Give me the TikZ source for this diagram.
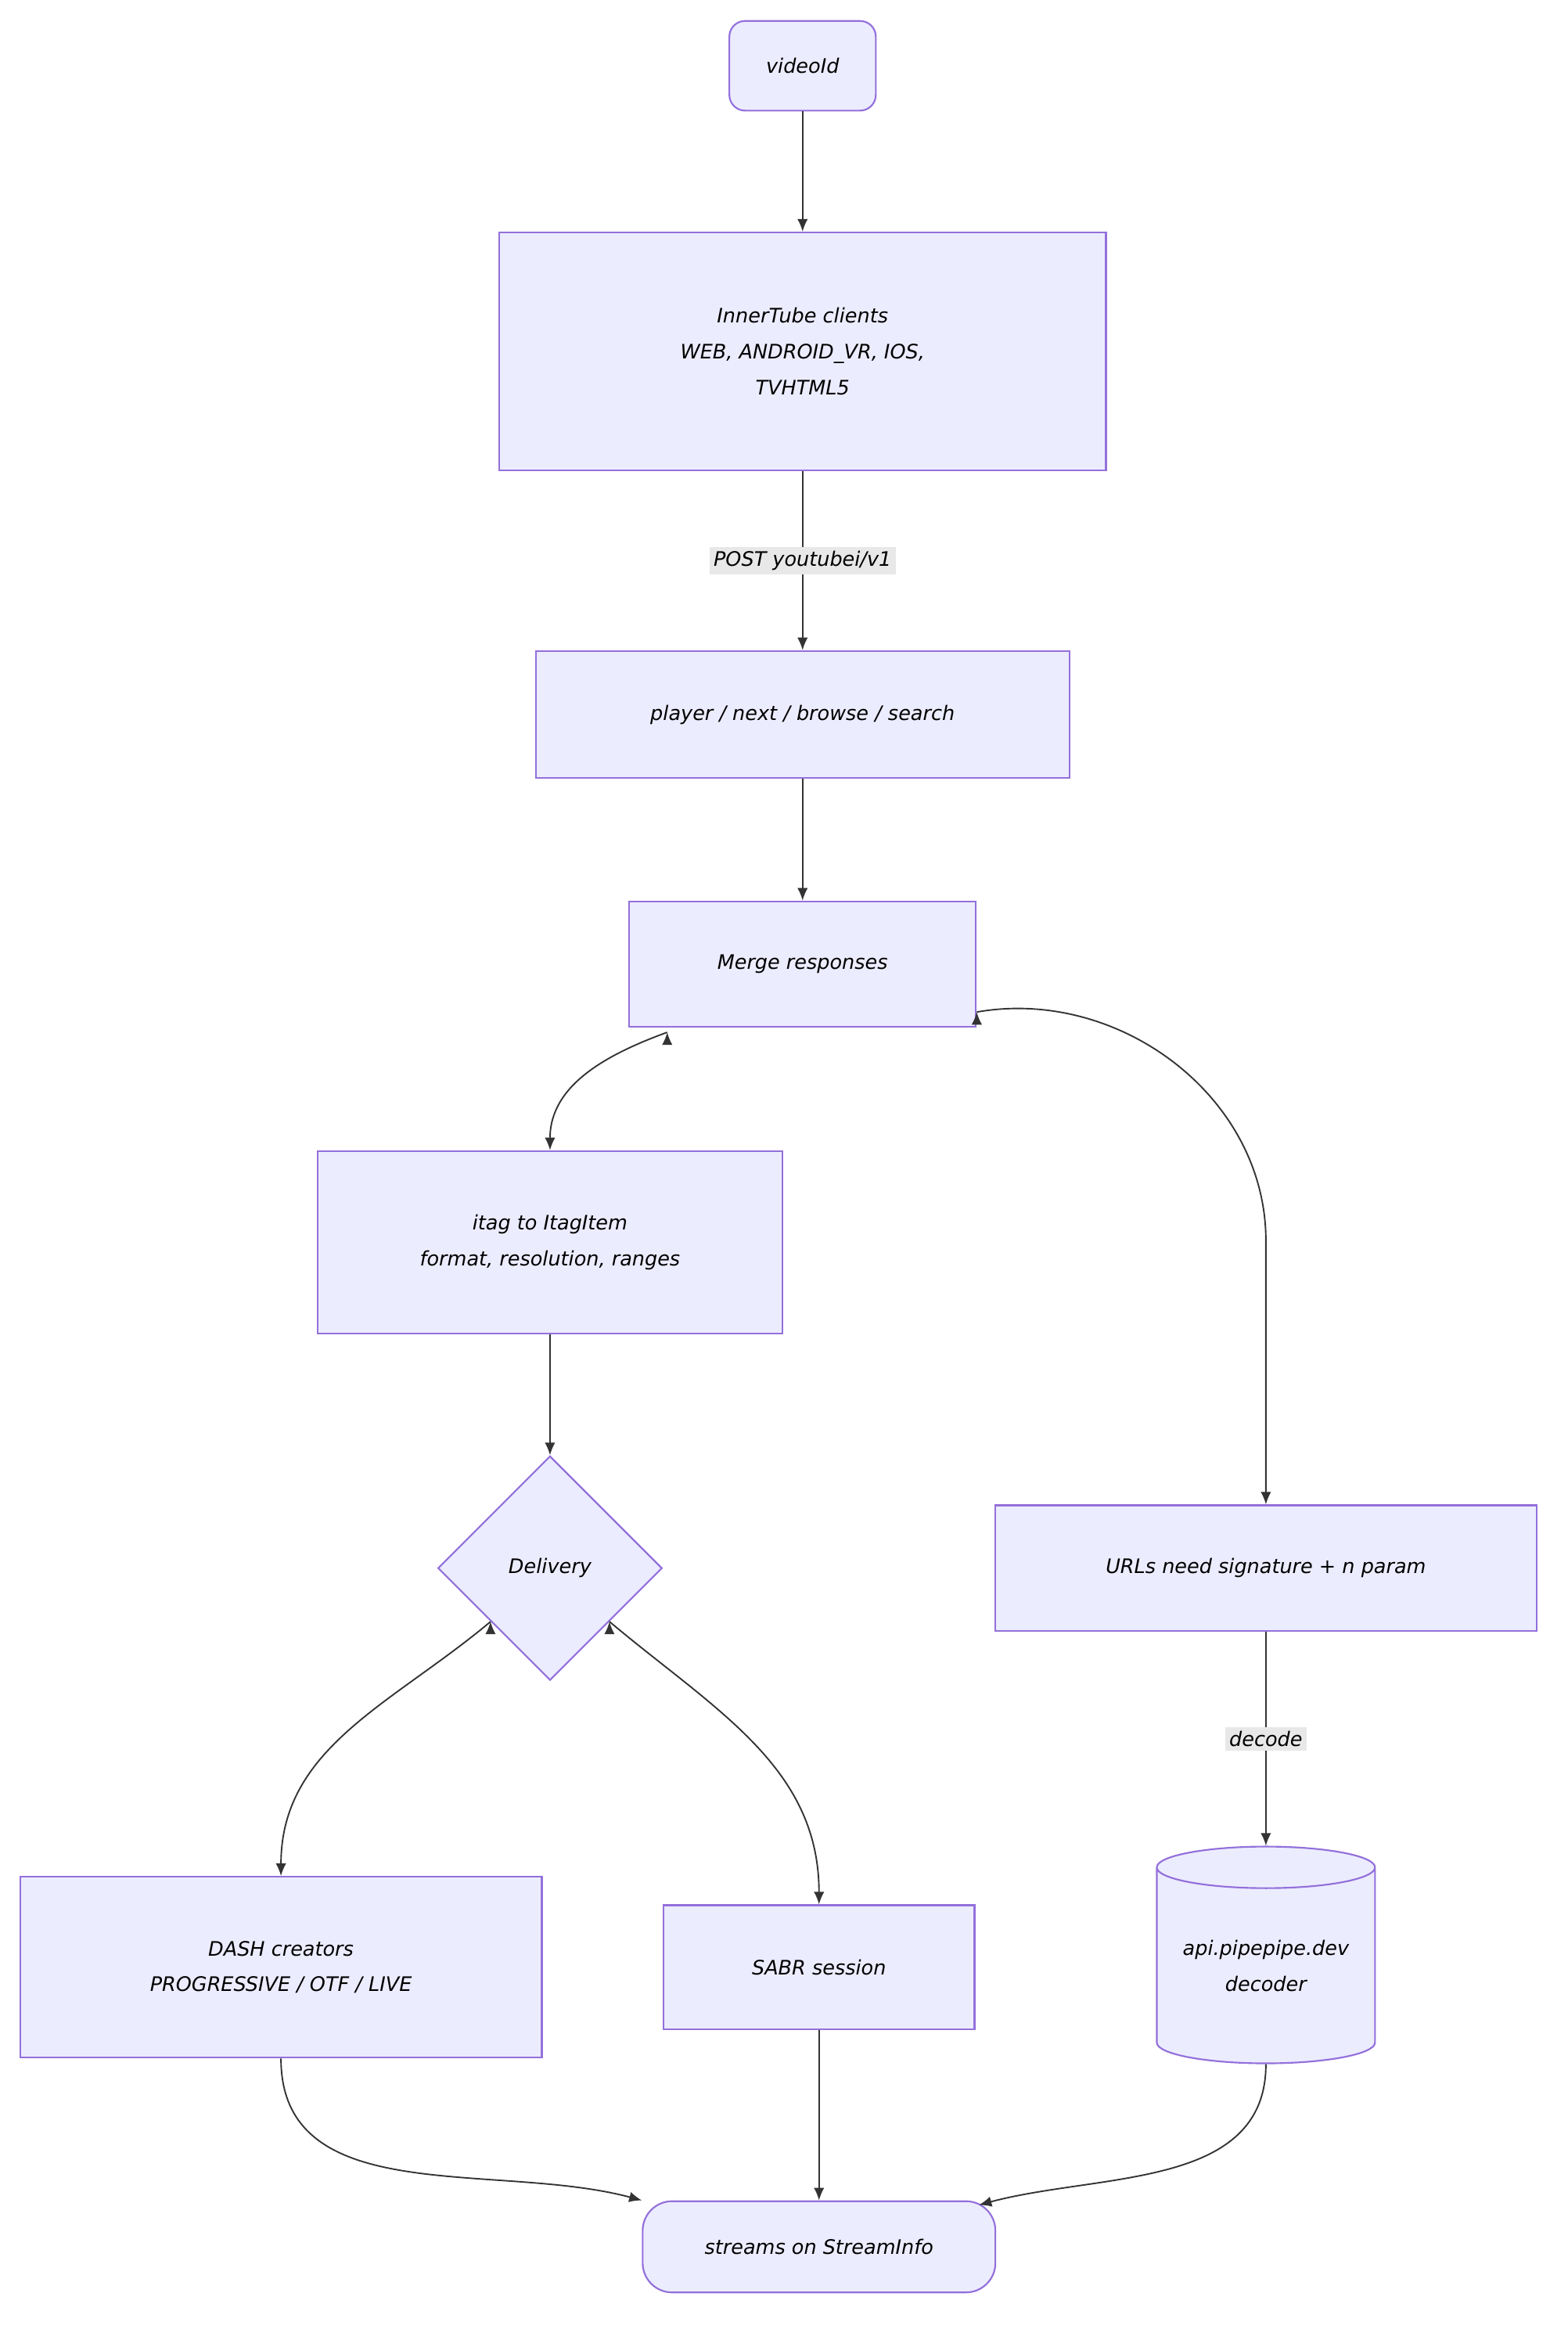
\documentclass[tikz,border=0pt]{standalone}
\usepackage{fontspec}
\setmainfont{DejaVu Sans}
\usetikzlibrary{shapes.geometric,arrows.meta,patterns}
\definecolor{nfill}{HTML}{ECECFF}
\definecolor{nline}{HTML}{9370DB}
\definecolor{eline}{HTML}{333333}
\definecolor{lblbg}{HTML}{E8E8E8}
\begin{document}
\begin{tikzpicture}[x=0.05cm,y=-0.05cm,
  txt/.style={font=\fontsize{19}{34}\selectfont\itshape, text=black, align=center},
  box/.style={txt, draw=nline, line width=1.6pt, fill=nfill, inner sep=0pt},
  pill/.style={box, rounded corners=15pt},
  edge/.style={draw=eline, line width=1.4pt, -{Latex[length=12pt,width=10pt]}},
  lbl/.style={txt, fill=lblbg, inner sep=4pt}]
\useasboundingbox (0,0) rectangle (1049,1558);
\node[pill, minimum width=98*0.05cm, minimum height=60*0.05cm] (vid) at (537,44) {videoId};
\node[box, minimum width=406*0.05cm, minimum height=159*0.05cm] (inner) at (537,235) {InnerTube clients\\WEB, ANDROID\_VR, IOS,\\TVHTML5};
\node[box, minimum width=357*0.05cm, minimum height=85*0.05cm] (player) at (537,478) {player / next / browse / search};
\node[box, minimum width=232*0.05cm, minimum height=84*0.05cm] (merge) at (537,645) {Merge responses};
\node[box, minimum width=311*0.05cm, minimum height=122*0.05cm] (itag) at (368,831) {itag to ItagItem\\format, resolution, ranges};
\node[box, diamond, aspect=1, minimum width=150*0.05cm, minimum height=150*0.05cm] (deliv) at (368,1049) {Delivery};
\node[box, minimum width=362*0.05cm, minimum height=84*0.05cm] (urls) at (847,1049) {URLs need signature + n param};
\node[box, cylinder, shape border rotate=90, aspect=0.25, minimum width=146*0.05cm, minimum height=145*0.05cm] (api) at (847,1315) {api.pipepipe.dev\\decoder};
\node[box, minimum width=349*0.05cm, minimum height=121*0.05cm] (dash) at (188,1316) {DASH creators\\PROGRESSIVE / OTF / LIVE};
\node[box, minimum width=208*0.05cm, minimum height=83*0.05cm] (sabr) at (548,1316) {SABR session};
\node[pill, minimum width=236*0.05cm, minimum height=61*0.05cm, rounded corners=28pt] (streams) at (548,1503) {streams on StreamInfo};

\draw[edge] (vid) -- (inner);
\draw[edge] (inner) -- node[lbl] (l1) {POST youtubei/v1} (player);
\draw[edge] (player) -- (merge);
\draw[edge] (merge.south west)++(26,3) coordinate (m1);
\draw[edge] (m1) to[out=200,in=90] (itag.north);
\draw[edge] (merge.east)++(0,32) coordinate (m2);
\draw[edge] (m2) to[out=10,in=90] (847,830) -- (urls.north);
\draw[edge] (itag) -- (deliv);
\draw[edge] (deliv.south west)++(-2,-2) coordinate (d1);
\draw[edge] (d1) to[out=220,in=90] (dash.north);
\draw[edge] (deliv.south east)++(2,-2) coordinate (d2);
\draw[edge] (d2) to[out=-40,in=90] (sabr.north);
\draw[edge] (urls) -- node[lbl] (l2) {decode} (api);
\draw[edge] (dash.south) to[out=-90,in=165] (streams.west|-streams.north) ;
\draw[edge] (sabr) -- (streams);
\draw[edge] (api.bottom) to[out=-90,in=15] (655,1475);
\end{tikzpicture}
\end{document}
